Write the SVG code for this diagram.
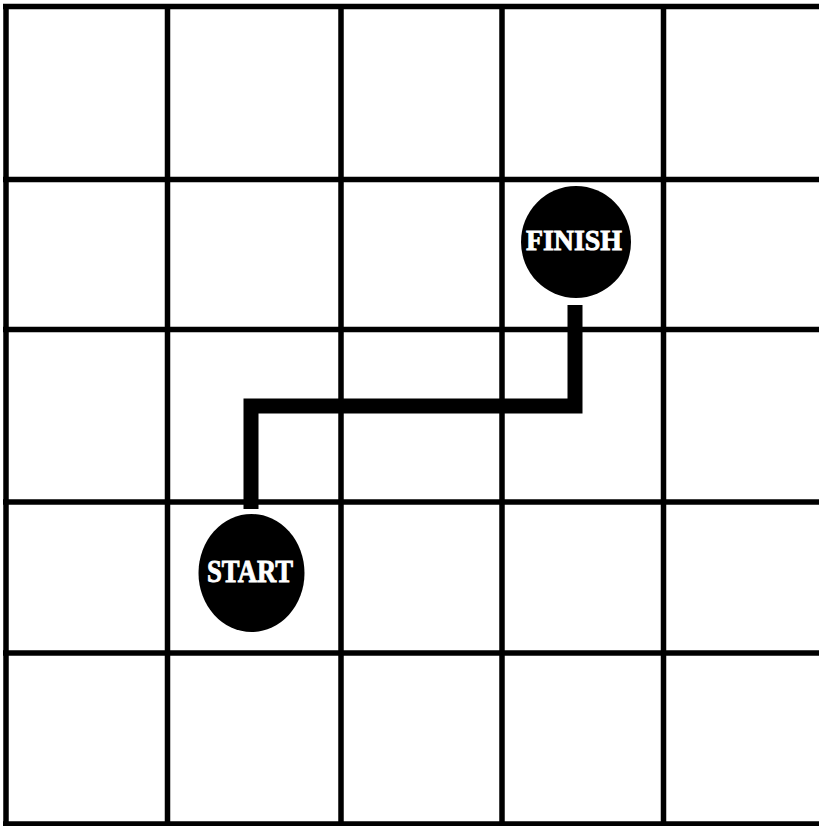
<svg xmlns="http://www.w3.org/2000/svg" width="819" height="826" viewBox="0 0 819 826">
<style>
.grid line{stroke:#000;stroke-width:5.5}
.dot{fill:#000}
.lbl{fill:#fff;stroke:#fff;stroke-width:0.9;font-family:"Liberation Serif","DejaVu Serif",serif;font-weight:bold;text-anchor:middle}
.path{fill:none;stroke:#000;stroke-width:15;stroke-linejoin:miter;stroke-linecap:butt}
</style>
<rect width="819" height="826" fill="#fff"/>
<g class="grid" id="grid">
<line x1="6" y1="4" x2="6" y2="826"/>
<line x1="167.5" y1="4" x2="167.5" y2="826"/>
<line x1="341" y1="4" x2="341" y2="826"/>
<line x1="502" y1="4" x2="502" y2="826"/>
<line x1="663.5" y1="4" x2="663.5" y2="826"/>
<line x1="3" y1="6.5" x2="819" y2="6.5"/>
<line x1="3" y1="179.5" x2="819" y2="179.5"/>
<line x1="3" y1="329.5" x2="819" y2="329.5"/>
<line x1="3" y1="502" x2="819" y2="502"/>
<line x1="3" y1="653" x2="819" y2="653"/>
<line x1="3" y1="824" x2="819" y2="824"/>
</g>
<g id="connectors">
<path class="path" d="M251,509 V406 H575 V305"/>
</g>
<g id="finish">
<ellipse class="dot" cx="576" cy="242" rx="55" ry="56"/>
<text class="lbl" x="574" y="250" font-size="30" textLength="96" lengthAdjust="spacingAndGlyphs">FINISH</text>
</g>
<g id="start">
<ellipse class="dot" cx="251.5" cy="573" rx="53" ry="59"/>
<text class="lbl" x="250" y="582" font-size="32" textLength="86" lengthAdjust="spacingAndGlyphs">START</text>
</g>
</svg>
